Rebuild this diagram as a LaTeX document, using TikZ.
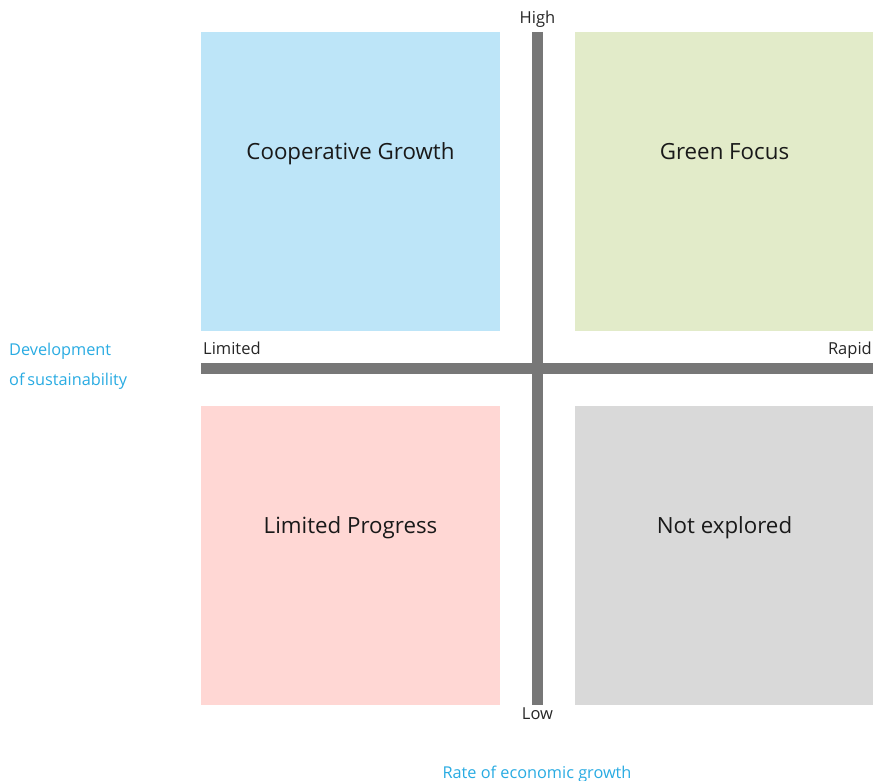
\documentclass[tikz,border=0pt]{standalone}
\usepackage{fontspec}
\setmainfont{Open Sans}
\usetikzlibrary{positioning}

\definecolor{quadblue}{HTML}{BDE5F8}
\definecolor{quadgreen}{HTML}{E2EBC9}
\definecolor{quadpink}{HTML}{FFD7D4}
\definecolor{quadgray}{HTML}{D9D9D9}
\definecolor{axisgray}{HTML}{777777}
\definecolor{titleblue}{HTML}{29ABE2}

\begin{document}
\begin{tikzpicture}[
  x=1pt,y=-1pt,
  quad/.style={draw=none,minimum width=299pt,minimum height=299pt,inner sep=0pt},
  qlabel/.style={font=\fontsize{22.3}{26}\selectfont,text=black!90,inner sep=0pt,
                 anchor=base},
  axis/.style={line width=11pt,draw=axisgray},
  tick/.style={font=\fontsize{16.5}{19}\selectfont,text=black!85,inner sep=0pt},
  title/.style={font=\fontsize{16.3}{30}\selectfont,text=titleblue,inner sep=0pt},
]
\useasboundingbox (0,0) rectangle (873,781);

% ---- the four scenario quadrants ----
\node[quad,fill=quadblue]  (coop)    at (350.5,181.5) {};
\node[quad,fill=quadgreen] (green)   at (724.5,181.5) {};
\node[quad,fill=quadpink]  (limprog) at (350.5,555.5) {};
\node[quad,fill=quadgray]  (notexp)  at (724.5,555.5) {};

% scenario names sit in the upper part of each box
\node[qlabel] (coopname)    at ([yshift=-128pt]coop.north)    {Cooperative Growth};
\node[qlabel] (greenname)   at ([yshift=-128pt]green.north)   {Green Focus};
\node[qlabel] (limprogname) at ([yshift=-128pt]limprog.north) {Limited Progress};
\node[qlabel] (notexpname)  at ([yshift=-128pt]notexp.north)  {Not explored};

% ---- axis ends ----
\coordinate (top)   at (537.5,32);
\coordinate (bot)   at (537.5,705);
\coordinate (left)  at (201,368.5);
\coordinate (right) at (873,368.5);

% vertical axis: sustainability
\draw[axis] (top) -- (bot);
% horizontal axis: economic growth
\draw[axis] (left) -- (right);

% ---- end labels ----
\node[tick,above=4pt of top]                  (high) {High};
\node[tick,below=3pt of bot]                  (low)  {Low};
\node[tick,anchor=base west] at (203,354)     (lim)  {Limited};
\node[tick,anchor=base east] at (872,354)     (rap)  {Rapid};

% ---- axis titles ----
\node[title,align=left,anchor=north west] at (9,343) (ytitle)
     {Development\\of\,sustainability};
\node[title,anchor=base] at (537,778) (xtitle) {Rate of economic growth};

\end{tikzpicture}
\end{document}
